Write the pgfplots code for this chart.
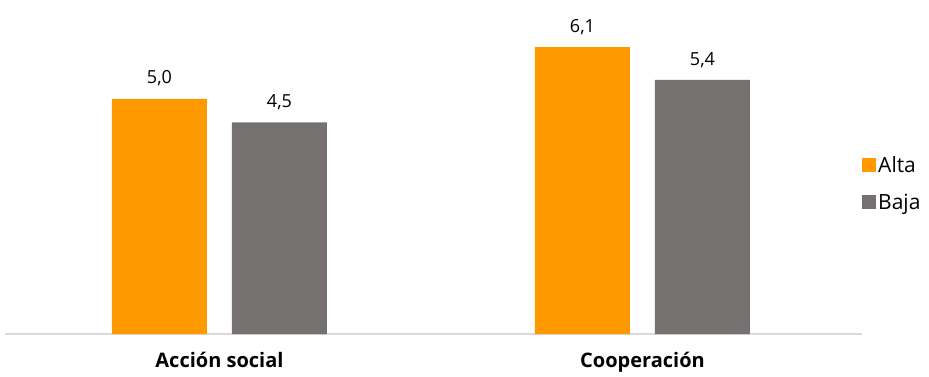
\documentclass[border=0pt]{standalone}
\usepackage{fontspec}
\setmainfont{Open Sans}
\usepackage{pgfplots}
\pgfplotsset{compat=1.18}
\definecolor{alta}{HTML}{FF9900}
\definecolor{baja}{HTML}{767171}
\definecolor{axisgray}{HTML}{D9D9D9}
\begin{document}
\begin{tikzpicture}
\path[use as bounding box] (0,0) rectangle (929pt,376pt);
\begin{axis}[
  at={(5pt,42pt)}, anchor=south west,
  scale only axis, width=857pt, height=334pt,
  xmin=-0.507, xmax=1.519, ymin=0, ymax=7.1,
  ybar, bar width=95pt,
  axis y line=none,
  axis x line*=bottom,
  x axis line style={draw=axisgray, line width=1.3pt, -},
  xtick={0,1}, xticklabels={Acción social, Cooperación},
  major tick length=0pt,
  xticklabel style={font=\fontsize{20}{24}\selectfont\bfseries, yshift=-15pt},
  /pgf/number format/assume math mode=true,
  /pgf/number format/fixed,
  /pgf/number format/fixed zerofill,
  /pgf/number format/precision=1,
  /pgf/number format/use comma,
  nodes near coords,
  nodes near coords style={font=\fontsize{18}{21}\selectfont, text=black, yshift=9pt},
  legend style={at={(rel axis cs:1,0.45)}, anchor=west, draw=none, fill=none,
    font=\fontsize{21}{25}\selectfont, row sep=16pt, inner xsep=0pt,
    cells={anchor=west}},
  legend image code/.code={\fill[#1] (-4pt,-7pt) rectangle (10pt,7pt);},
]
\addplot[draw=none, fill=alta, bar shift=-60pt] coordinates {(0,5.0) (1,6.1)};
\addplot[draw=none, fill=baja, bar shift=60pt] coordinates {(0,4.5) (1,5.4)};
\legend{Alta, Baja}
\end{axis}
\end{tikzpicture}
\end{document}
